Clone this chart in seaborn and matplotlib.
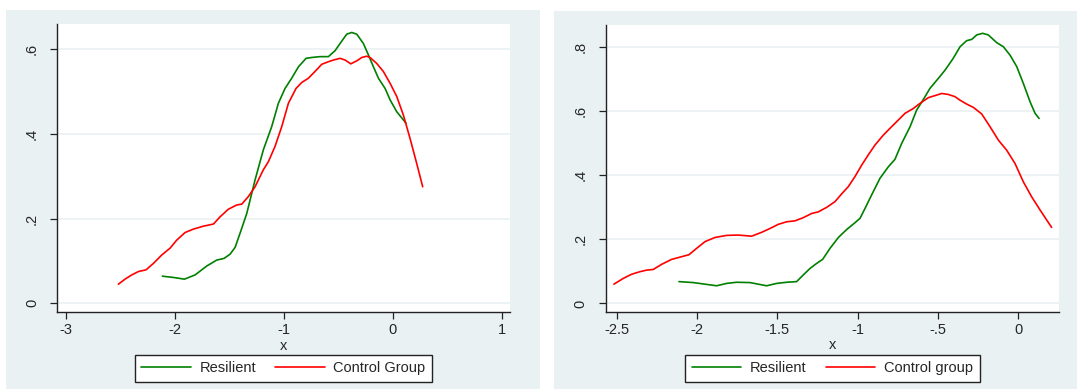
import numpy as np
import pandas as pd
import matplotlib
matplotlib.use("Agg")
import matplotlib.pyplot as plt
from matplotlib.patches import Rectangle
import seaborn as sns

# ---- Left panel data ----
left_res_x = [-2.113, -2.012, -1.911, -1.813, -1.706, -1.615, -1.547, -1.492, -1.446, -1.401,
              -1.339, -1.263, -1.187, -1.110, -1.049, -0.988, -0.927, -0.865, -0.795, -0.743,
              -0.667, -0.590, -0.529, -0.483, -0.422, -0.376, -0.330, -0.269, -0.223, -0.177,
              -0.131, -0.070, -0.024, 0.037, 0.122]
left_res_y = [0.064, 0.061, 0.057, 0.067, 0.088, 0.102, 0.106, 0.116, 0.132, 0.165,
              0.212, 0.291, 0.362, 0.417, 0.472, 0.507, 0.531, 0.558, 0.578, 0.580,
              0.582, 0.582, 0.596, 0.613, 0.635, 0.639, 0.635, 0.613, 0.586, 0.558,
              0.531, 0.507, 0.480, 0.452, 0.425]
left_ctl_x = [-2.517, -2.456, -2.394, -2.333, -2.263, -2.196, -2.119, -2.043, -1.982, -1.905,
              -1.829, -1.737, -1.645, -1.584, -1.508, -1.431, -1.385, -1.324, -1.263, -1.187,
              -1.141, -1.080, -1.018, -0.957, -0.887, -0.835, -0.774, -0.713, -0.651, -0.590,
              -0.544, -0.483, -0.437, -0.385, -0.330, -0.284, -0.239, -0.208, -0.147, -0.086,
              -0.024, 0.037, 0.098, 0.159, 0.220, 0.275]
left_ctl_y = [0.045, 0.057, 0.067, 0.075, 0.079, 0.094, 0.114, 0.130, 0.149, 0.167,
              0.175, 0.182, 0.187, 0.204, 0.222, 0.232, 0.234, 0.252, 0.275, 0.315,
              0.334, 0.370, 0.417, 0.472, 0.507, 0.521, 0.531, 0.547, 0.564, 0.570,
              0.574, 0.578, 0.574, 0.565, 0.572, 0.580, 0.583, 0.580, 0.566, 0.547,
              0.519, 0.488, 0.444, 0.389, 0.330, 0.275]

# ---- Right panel data ----
right_res_x = [-2.112, -2.023, -1.950, -1.878, -1.815, -1.753, -1.670, -1.618, -1.566, -1.504,
               -1.442, -1.380, -1.338, -1.297, -1.255, -1.218, -1.172, -1.120, -1.068, -1.017,
               -0.985, -0.954, -0.913, -0.861, -0.809, -0.768, -0.726, -0.674, -0.633, -0.591,
               -0.550, -0.498, -0.456, -0.405, -0.363, -0.322, -0.290, -0.259, -0.222, -0.187,
               -0.135, -0.093, -0.052, -0.010, 0.031, 0.073, 0.104, 0.129]
right_res_y = [0.068, 0.065, 0.060, 0.055, 0.0625, 0.066, 0.065, 0.060, 0.055, 0.0625,
               0.066, 0.068, 0.089, 0.109, 0.125, 0.1375, 0.172, 0.206, 0.231, 0.252,
               0.266, 0.297, 0.339, 0.391, 0.427, 0.450, 0.500, 0.552, 0.604, 0.6375,
               0.672, 0.703, 0.729, 0.766, 0.802, 0.821, 0.825, 0.839, 0.844, 0.839,
               0.815, 0.802, 0.776, 0.740, 0.6875, 0.630, 0.594, 0.578]
right_ctl_x = [-2.517, -2.459, -2.407, -2.355, -2.313, -2.272, -2.220, -2.158, -2.095, -2.050,
               -2.002, -1.950, -1.888, -1.815, -1.743, -1.660, -1.598, -1.546, -1.494, -1.442,
               -1.390, -1.338, -1.286, -1.245, -1.193, -1.141, -1.100, -1.058, -1.017, -0.975,
               -0.934, -0.892, -0.840, -0.799, -0.757, -0.705, -0.654, -0.612, -0.560, -0.508,
               -0.477, -0.436, -0.394, -0.363, -0.322, -0.280, -0.228, -0.176, -0.124, -0.073,
               -0.021, 0.031, 0.083, 0.135, 0.207]
right_ctl_y = [0.060, 0.078, 0.091, 0.099, 0.104, 0.106, 0.122, 0.1375, 0.146, 0.152,
               0.172, 0.193, 0.206, 0.2125, 0.2135, 0.210, 0.222, 0.234, 0.247, 0.255,
               0.258, 0.268, 0.281, 0.286, 0.300, 0.318, 0.342, 0.365, 0.396, 0.432,
               0.464, 0.495, 0.526, 0.547, 0.568, 0.594, 0.609, 0.625, 0.643, 0.651,
               0.656, 0.653, 0.646, 0.635, 0.623, 0.6125, 0.592, 0.552, 0.510, 0.479,
               0.4375, 0.380, 0.333, 0.292, 0.2375]

left_labels = ["Resilient", "Control Group"]
right_labels = ["Resilient", "Control group"]
left_xticks = [-3, -2, -1, 0, 1]
left_xticklabels = ["-3", "-2", "-1", "0", "1"]
left_yticks = [0, 0.2, 0.4, 0.6]
left_yticklabels = ["0", ".2", ".4", ".6"]
right_xticks = [-2.5, -2, -1.5, -1, -0.5, 0]
right_xticklabels = ["-2.5", "-2", "-1.5", "-1", "-.5", "0"]
right_yticks = [0, 0.2, 0.4, 0.6, 0.8]
right_yticklabels = ["0", ".2", ".4", ".6", ".8"]

sns.set_style("white")
plt.rcParams["font.family"] = ["Liberation Sans", "DejaVu Sans"]

W, H = 1077, 389
fig = plt.figure(figsize=(W / 100, H / 100), dpi=100)
fig.patch.set_facecolor("white")

BG = "#EAF1F3"
GREEN = "#008000"
RED = "#FF0000"

# panel backgrounds
fig.patches.append(Rectangle((6 / W, 0), (540 - 6) / W, 1 - 10 / H, transform=fig.transFigure,
                             facecolor=BG, edgecolor="none", zorder=-10))
fig.patches.append(Rectangle((554 / W, 0), (W - 554) / W, 1 - 11 / H, transform=fig.transFigure,
                             facecolor=BG, edgecolor="none", zorder=-10))


def make_df(rx, ry, cx, cy, labels):
    return pd.concat([
        pd.DataFrame({"x": rx, "y": ry, "group": labels[0]}),
        pd.DataFrame({"x": cx, "y": cy, "group": labels[1]}),
    ], ignore_index=True)


def style_axes(ax, xlim, ylim, xticks, xtl, yticks, ytl):
    ax.set_facecolor("white")
    ax.set_xlim(*xlim)
    ax.set_ylim(*ylim)
    ax.set_xticks(xticks)
    ax.set_xticklabels(xtl, fontsize=10.5)
    ax.set_yticks(yticks)
    ax.set_yticklabels(ytl, fontsize=10.5, rotation=90, va="center")
    for s in ["top", "right"]:
        ax.spines[s].set_visible(False)
    for s in ["left", "bottom"]:
        ax.spines[s].set_color("#222222")
        ax.spines[s].set_linewidth(1.0)
    ax.tick_params(axis="both", direction="out", length=5, width=0.9, color="#222222",
                   bottom=True, left=True)
    ax.tick_params(axis="x", pad=3)
    ax.tick_params(axis="y", pad=8)
    ax.yaxis.grid(True, color=BG, linewidth=1.2)
    ax.xaxis.grid(False)
    ax.set_axisbelow(True)
    ax.set_xlabel("x", fontsize=10.5, labelpad=1)
    ax.set_ylabel("")


def add_legend(ax, labels, cx):
    handles = [plt.Line2D([], [], color=GREEN, lw=1.2), plt.Line2D([], [], color=RED, lw=1.2)]
    leg = fig.legend(handles, labels, loc="center", bbox_to_anchor=(cx, 1 - 368.2 / H),
                     ncol=2, frameon=True, fancybox=False, edgecolor="#222222",
                     fontsize=10.5, handlelength=3.4, columnspacing=1.3, handletextpad=0.6,
                     borderpad=0.45, borderaxespad=0, framealpha=1)
    leg.get_frame().set_linewidth(1.0)


# Left panel
ax1 = fig.add_axes([57 / W, 1 - 312 / H, 453 / W, 288 / H])
df1 = make_df(left_res_x, left_res_y, left_ctl_x, left_ctl_y, left_labels)
sns.lineplot(data=df1, x="x", y="y", hue="group", palette=[GREEN, RED], sort=False,
             estimator=None, linewidth=1.2, ax=ax1, legend=False)
style_axes(ax1, (-3.08, 1.076), (-0.0205, 0.659), left_xticks, left_xticklabels,
           left_yticks, left_yticklabels)
add_legend(ax1, left_labels, 283.3 / W)

# Right panel
ax2 = fig.add_axes([605.7 / W, 1 - 311.7 / H, 453.3 / W, 286.7 / H])
df2 = make_df(right_res_x, right_res_y, right_ctl_x, right_ctl_y, right_labels)
sns.lineplot(data=df2, x="x", y="y", hue="group", palette=[GREEN, RED], sort=False,
             estimator=None, linewidth=1.2, ax=ax2, legend=False)
style_axes(ax2, (-2.568, 0.253), (-0.026, 0.870), right_xticks, right_xticklabels,
           right_yticks, right_yticklabels)
add_legend(ax2, right_labels, 832.5 / W)

fig.savefig("out.png", dpi=100, facecolor="white")
